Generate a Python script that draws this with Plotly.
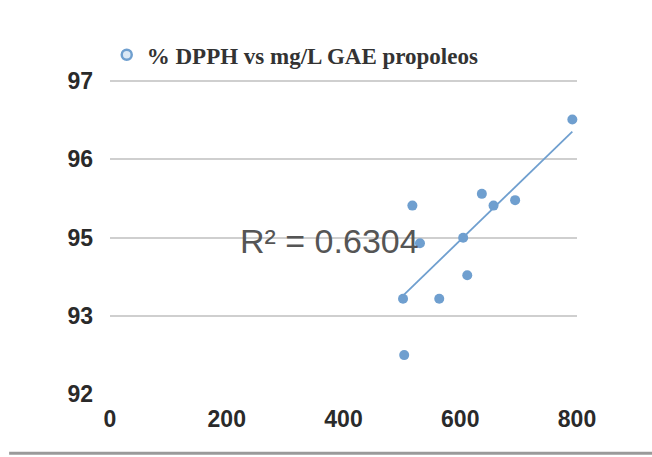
import numpy as np
import plotly.graph_objects as go

# mg/L GAE propoleos
gae = [792, 637, 694, 657, 518, 531, 605, 612, 502, 564, 504]
# % DPPH, in the chart's axis positions (ticks below carry the printed labels)
dpph = [95.51, 94.56, 94.48, 94.41, 94.41, 93.93, 94.00, 93.52, 93.22, 93.22, 92.50]

y_tick_pos = [92, 93, 94, 95, 96]
y_tick_text = ["92", "93", "95", "96", "97"]
x_tick_vals = [0, 200, 400, 600, 800]

series_name = "% DPPH vs mg/L GAE propoleos"
r2_text = "R² = 0.6304"

blue = "#6f9fcf"

xs = np.array(gae, dtype=float)
ys = np.array(dpph, dtype=float)
slope, intercept = np.polyfit(xs, ys, 1)
xl = np.array([xs.min(), xs.max()])
yl = slope * xl + intercept

fig = go.Figure()
fig.add_trace(go.Scatter(x=gae, y=dpph, mode="markers",
                         marker=dict(color=blue, size=10),
                         showlegend=False, cliponaxis=False))
fig.add_trace(go.Scatter(x=xl, y=yl, mode="lines",
                         line=dict(color=blue, width=1.8),
                         showlegend=False))
fig.add_trace(go.Scatter(x=[None], y=[None], mode="markers", name=series_name,
                         marker=dict(color="#dbe8f5", size=10,
                                     line=dict(color=blue, width=2.5))))

fig.add_annotation(x=219, y=93.96, xref="x", yref="y", text=r2_text,
                   showarrow=False, xanchor="left", yanchor="middle",
                   font=dict(family="Liberation Sans, Arial", size=34, color="#555555"))

fig.add_shape(type="line", xref="paper", yref="paper",
              x0=-0.216, x1=1.17, y0=-0.185, y1=-0.185,
              line=dict(color="#9a9a9a", width=3))

tick_font = dict(family="Liberation Sans, Arial", size=23, color="#2a2a2a", weight=700)

fig.update_layout(
    width=652, height=457,
    margin=dict(l=110, r=75, t=80, b=62),
    paper_bgcolor="white", plot_bgcolor="white",
    legend=dict(x=-0.007, y=1.08, xanchor="left", yanchor="middle",
                bgcolor="rgba(0,0,0,0)", itemwidth=30,
                font=dict(family="Liberation Serif, Times New Roman", size=23,
                          color="#333333", weight=700)),
    xaxis=dict(range=[0, 800], tickvals=x_tick_vals, showgrid=False, zeroline=False,
               showline=False, ticks="", tickfont=tick_font,
               ticklabelstandoff=8),
    yaxis=dict(range=[91.99, 96.015], tickvals=y_tick_pos, ticktext=y_tick_text,
               showgrid=True, gridcolor="#cfcfcf", gridwidth=2, zeroline=False,
               showline=False, ticks="", tickfont=tick_font,
               ticklabelstandoff=16),
)

fig.write_html("out.html")
